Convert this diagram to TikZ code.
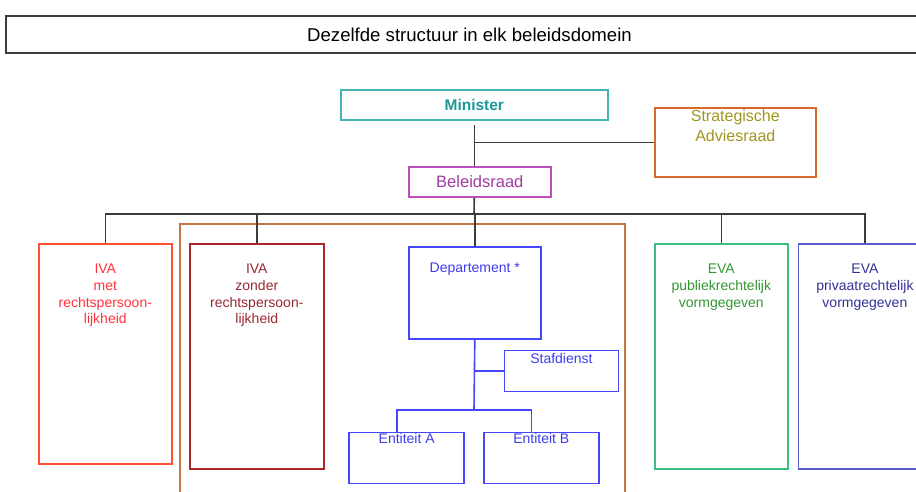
\documentclass[tikz,border=0pt]{standalone}
\usepackage{fontspec}
\setmainfont{Liberation Sans}
\usepackage{xcolor}
\usetikzlibrary{positioning}

\definecolor{titlegray}{RGB}{60,60,60}
\definecolor{connline}{RGB}{60,60,60}
\definecolor{ministerline}{RGB}{70,180,180}
\definecolor{ministertext}{RGB}{30,150,150}
\definecolor{stratline}{RGB}{215,105,45}
\definecolor{strattext}{RGB}{160,150,30}
\definecolor{beleidline}{RGB}{190,80,190}
\definecolor{beleidtext}{RGB}{160,60,160}
\definecolor{framebrown}{RGB}{200,115,70}
\definecolor{ivamline}{RGB}{255,80,50}
\definecolor{ivamtext}{RGB}{255,50,60}
\definecolor{ivazline}{RGB}{170,40,40}
\definecolor{ivaztext}{RGB}{150,40,50}
\definecolor{deptblue}{RGB}{70,70,255}
\definecolor{depttext}{RGB}{60,60,240}
\definecolor{evapline}{RGB}{60,190,130}
\definecolor{evaptext}{RGB}{50,150,50}
\definecolor{evavline}{RGB}{90,90,200}
\definecolor{evavtext}{RGB}{50,50,150}

\begin{document}
\begin{tikzpicture}[
        x=1pt, y=-1pt,
        font=\fontsize{14}{16.7}\selectfont,
        box/.style = {
            draw,
            rectangle,
            line width=1.6pt,
            inner sep=0pt,
            anchor=north west
        },
        inside/.style = {
            anchor=north,
            align=center,
            inner sep=0pt
        },
        conn/.style = {draw=connline, line width=1.6pt},
        deptconn/.style = {draw=deptblue, line width=1.6pt}
    ]

    \useasboundingbox (0,0) rectangle (916,491);

    \node[box, draw=titlegray, line width=2pt, minimum width=927pt, minimum height=37pt,
          font=\fontsize{18.6}{22}\selectfont] (title) at (5,15) {Dezelfde structuur in elk beleidsdomein};

    % top of the structure
    \node[box, draw=ministerline, text=ministertext, minimum width=267pt, minimum height=30pt,
          font=\bfseries\fontsize{15.5}{18}\selectfont] (minister) at (340,89) {Minister};
    \node[box, draw=stratline, minimum width=161pt, minimum height=69pt,
          label={[inside, text=strattext, yshift=-3pt, font=\fontsize{16}{20}\selectfont]north:{Strategische\\Adviesraad}}] (strat) at (654,107) {};
    \node[box, draw=beleidline, text=beleidtext, minimum width=142pt, minimum height=30pt,
          font=\fontsize{16.5}{20}\selectfont] (beleid) at (408,166) {Beleidsraad};

    \draw[draw=framebrown, line width=1.6pt] (180,224) rectangle (625,500);

    % entities
    \node[box, draw=ivamline, minimum width=133pt, minimum height=220pt,
          label={[inside, text=ivamtext, yshift=-21pt]north:{IVA\\met\\rechtspersoon-\\lijkheid}}] (ivamet) at (38,243) {};
    \node[box, draw=ivazline, minimum width=134pt, minimum height=225pt,
          label={[inside, text=ivaztext, yshift=-21pt]north:{IVA\\zonder\\rechtspersoon-\\lijkheid}}] (ivazonder) at (189,243) {};
    \node[box, draw=deptblue, minimum width=132pt, minimum height=92pt,
          label={[inside, text=depttext, yshift=-17pt]north:{Departement *}}] (dept) at (408,246) {};
    \node[box, draw=deptblue, minimum width=114pt, minimum height=41pt, below right=10pt and -38pt of dept,
          label={[inside, text=depttext, yshift=-4pt]north:{Stafdienst}}] (staf) {};
    \node[box, draw=deptblue, minimum width=115pt, minimum height=51pt, below left=92pt and -57pt of dept,
          label={[inside, text=depttext, yshift=-2pt]north:{Entiteit A}}] (entA) {};
    \node[box, draw=deptblue, minimum width=115pt, minimum height=51pt, right=18pt of entA,
          label={[inside, text=depttext, yshift=-2pt]north:{Entiteit B}}] (entB) {};
    \node[box, draw=evapline, minimum width=133pt, minimum height=225pt,
          label={[inside, text=evaptext, yshift=-21pt]north:{EVA\\publiekrechtelijk\\vormgegeven}}] (evapub) at (654,243) {};
    \node[box, draw=evavline, minimum width=133pt, minimum height=225pt, right=9pt of evapub,
          label={[inside, text=evavtext, yshift=-21pt]north:{EVA\\privaatrechtelijk\\vormgegeven}}] (evapriv) {};

    \coordinate (bus) at (474,214);
    \coordinate (entbus) at (474,410);

    \draw[conn, shorten <=4pt] (minister.south) -- (minister.south |- beleid.north);
    \draw[conn] (minister.south |- strat.west) -- (strat.west);
    \draw[conn] (minister.south |- beleid.south) -- (bus);
    \foreach \n in {ivamet, ivazonder, dept, evapub, evapriv}
        \draw[conn] (bus) -| (\n.north);

    \draw[deptconn] (dept.south) -- (entbus);
    \draw[deptconn] (dept.south |- staf.west) -- (staf.west);
    \draw[deptconn] (entbus) -| ([xshift=-10pt]entA.north);
    \draw[deptconn] (entbus) -| ([xshift=-10pt]entB.north);

\end{tikzpicture}
\end{document}
